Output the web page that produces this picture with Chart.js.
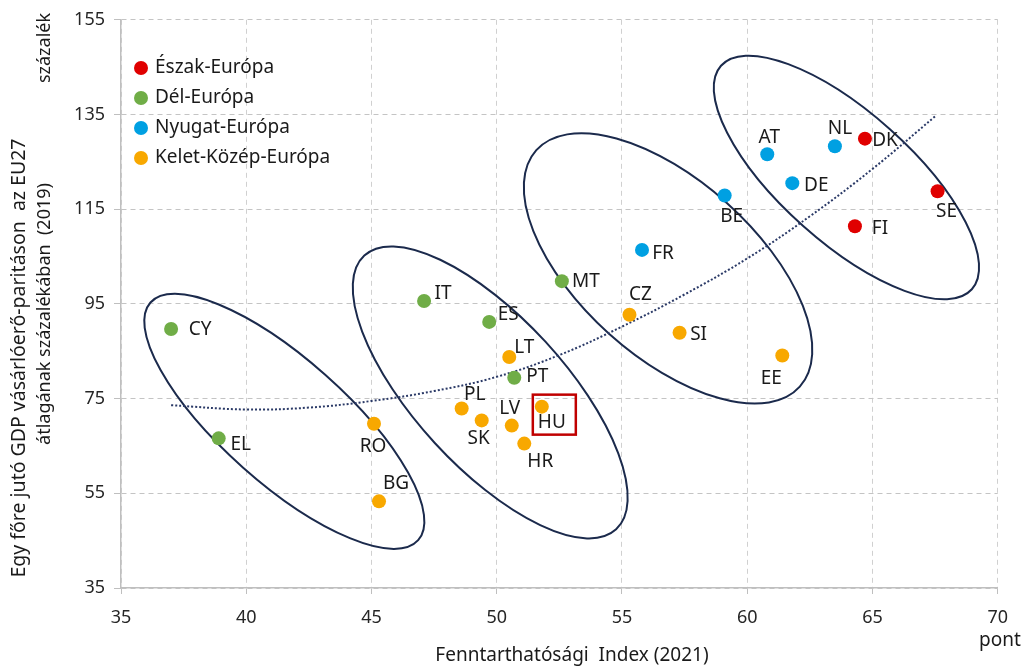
<!DOCTYPE html>
<html>
<head>
<meta charset="utf-8">
<script src="https://cdn.jsdelivr.net/npm/chart.js@4.4.1/dist/chart.umd.min.js"></script>
<style>
  html, body { margin: 0; padding: 0; background: #fff; }
  #wrap { width: 1021px; height: 668px; }
</style>
</head>
<body>
<div id="wrap"><canvas id="scatterCanvas" width="1021" height="668"></canvas></div>
<script>
// --- data ---
const groupNames = ['Észak-Európa', 'Dél-Európa', 'Nyugat-Európa', 'Kelet-Közép-Európa'];

const northCodes = ['DK', 'SE', 'FI'];
const northX = [64.7, 67.6, 64.3];
const northY = [129.9, 118.8, 111.4];

const southCodes = ['CY', 'EL', 'IT', 'ES', 'PT', 'MT'];
const southX = [37.0, 38.9, 47.1, 49.7, 50.7, 52.6];
const southY = [89.7, 66.6, 95.6, 91.2, 79.4, 99.8];

const westCodes = ['AT', 'DE', 'NL', 'BE', 'FR'];
const westX = [60.8, 61.8, 63.5, 59.1, 55.8];
const westY = [126.6, 120.5, 128.3, 117.9, 106.4];

const ceeCodes = ['RO', 'BG', 'PL', 'SK', 'LV', 'LT', 'HU', 'HR', 'CZ', 'SI', 'EE'];
const ceeX = [45.1, 45.3, 48.6, 49.4, 50.6, 50.5, 51.8, 51.1, 55.3, 57.3, 61.4];
const ceeY = [69.7, 53.3, 72.9, 70.4, 69.3, 83.8, 73.3, 65.5, 92.7, 88.9, 84.1];

// trend line (dotted), read at a few x positions
const trendX = [37, 40, 42.5, 45, 47.5, 50, 52.5, 55, 57.5, 60, 62.5, 65, 67.5];
const trendY = [73.6, 72.7, 73.1, 74.5, 76.6, 79.6, 84.2, 90.2, 97.0, 104.6, 113.5, 123.5, 134.6];

const xTitle = 'Fenntarthatósági  Index (2021)';
const yTitle = ['Egy főre jutó GDP vásárlóerő-paritáson  az EU27', 'átlagának százalékában  (2019)'];
const yUnit = 'százalék';
const xUnit = 'pont';

// --- styling ---
const colors = ['#E00000', '#70AD47', '#00A0E2', '#F8A800'];
const FONT = "'Noto Sans', sans-serif";
const textColor = '#1a1a1a';

// label offsets (px, text centre relative to the marker)
const labelPos = {
  CY: [29, 1], EL: [22, 6], RO: [-1, 23], BG: [17, -18], IT: [19, -7], ES: [19, -7],
  LT: [15, -9], PT: [23, -1], PL: [13, -14], SK: [-3, 18], LV: [-2, -17], HU: [10, 16],
  HR: [16, 18], MT: [24, 0], CZ: [11, -20], SI: [19, 2], FR: [21, 4], BE: [7, 21],
  EE: [-11, 23], AT: [2, -17], DE: [24, 2], NL: [5, -18], DK: [20, 2], SE: [9, 20], FI: [25, 2]
};

// group ellipses: centre in data units, radii in px, angle in degrees
const ellipses = [
  { cx: 41.52, cy: 70.2, rx: 179, ry: 62, rot: 41.6 },
  { cx: 49.74, cy: 76.3, rx: 186, ry: 75, rot: 47.4 },
  { cx: 56.84, cy: 102.5, rx: 177, ry: 88, rot: 41.9 },
  { cx: 63.96, cy: 121.7, rx: 168, ry: 65, rot: 41.7 }
];

function pts(xs, ys) {
  return xs.map((x, i) => ({ x: x, y: ys[i] }));
}

const groups = [
  { codes: northCodes, data: pts(northX, northY) },
  { codes: southCodes, data: pts(southX, southY) },
  { codes: westCodes, data: pts(westX, westY) },
  { codes: ceeCodes, data: pts(ceeX, ceeY) }
];

const datasets = groups.map((g, i) => ({
  type: 'scatter',
  label: groupNames[i],
  codes: g.codes,
  data: g.data,
  backgroundColor: colors[i],
  borderColor: colors[i],
  borderWidth: 0,
  pointRadius: 7,
  order: 1
}));

datasets.push({
  type: 'line',
  label: 'trend',
  data: pts(trendX, trendY),
  borderColor: '#2B3A67',
  borderWidth: 2,
  borderDash: [2, 2],
  pointRadius: 0,
  tension: 0.4,
  fill: false,
  order: 5
});

const ellipsePlugin = {
  id: 'ellipses',
  beforeDatasetsDraw(chart) {
    const { ctx, scales: { x, y } } = chart;
    ctx.save();
    ctx.strokeStyle = '#1B2A4C';
    ctx.lineWidth = 2;
    ellipses.forEach(e => {
      ctx.beginPath();
      ctx.ellipse(x.getPixelForValue(e.cx), y.getPixelForValue(e.cy), e.rx, e.ry, e.rot * Math.PI / 180, 0, Math.PI * 2);
      ctx.stroke();
    });
    ctx.restore();
  }
};

const labelPlugin = {
  id: 'pointLabels',
  afterDatasetsDraw(chart) {
    const ctx = chart.ctx;
    ctx.save();
    ctx.font = '19px ' + FONT;
    ctx.fillStyle = textColor;
    ctx.textAlign = 'center';
    ctx.textBaseline = 'middle';
    chart.data.datasets.forEach((ds, i) => {
      if (!ds.codes) return;
      chart.getDatasetMeta(i).data.forEach((el, j) => {
        const code = ds.codes[j];
        const off = labelPos[code] || [20, 0];
        ctx.fillText(code, el.x + off[0], el.y + off[1]);
        if (code === 'HU') {
          ctx.strokeStyle = '#C00000';
          ctx.lineWidth = 2.5;
          ctx.strokeRect(el.x - 9, el.y - 12, 43, 40);
        }
      });
    });
    ctx.restore();
  }
};

const titlePlugin = {
  id: 'titles',
  afterDraw(chart) {
    const ctx = chart.ctx;
    ctx.save();
    ctx.fillStyle = textColor;
    ctx.textAlign = 'center';
    ctx.textBaseline = 'middle';
    ctx.font = '19px ' + FONT;
    ctx.fillText(xTitle, 572, 656);
    ctx.fillText(xUnit, 1000, 641);

    ctx.save();
    ctx.translate(19, 358);
    ctx.rotate(-Math.PI / 2);
    ctx.font = '19.5px ' + FONT;
    ctx.fillText(yTitle[0], 0, 0);
    ctx.restore();
    ctx.save();
    ctx.translate(45, 314);
    ctx.rotate(-Math.PI / 2);
    ctx.font = '18px ' + FONT;
    ctx.fillText(yTitle[1], 0, 0);
    ctx.restore();
    ctx.save();
    ctx.translate(45, 48);
    ctx.rotate(-Math.PI / 2);
    ctx.font = '18px ' + FONT;
    ctx.fillText(yUnit, 0, 0);
    ctx.restore();

    // legend
    ctx.font = '19px ' + FONT;
    ctx.textAlign = 'left';
    groupNames.forEach((name, i) => {
      const cy = 68 + i * 30;
      ctx.beginPath();
      ctx.fillStyle = colors[i];
      ctx.arc(141, cy, 7, 0, Math.PI * 2);
      ctx.fill();
      ctx.fillStyle = textColor;
      ctx.fillText(name, 155, cy);
    });
    ctx.restore();
  }
};

const scatterCanvas = document.getElementById('scatterCanvas');

const scatterChart = new Chart(scatterCanvas, {
  data: { datasets: datasets },
  options: {
    responsive: false,
    animation: false,
    events: [],
    devicePixelRatio: 1,
    layout: { padding: { left: 61, right: 23, top: 18, bottom: 36 } },
    plugins: {
      legend: { display: false },
      tooltip: { enabled: false }
    },
    scales: {
      x: {
        type: 'linear',
        min: 35,
        max: 70,
        afterFit: s => { s.height = 44; },
        ticks: { stepSize: 5, color: '#262626', font: { family: FONT, size: 18 }, padding: 13 },
        grid: { color: '#D0D0D0', lineWidth: 1, tickLength: 6, tickColor: '#BFBFBF', tickBorderDash: [] },
        border: { color: '#BFBFBF', width: 1.5, dash: [5, 4] }
      },
      y: {
        type: 'linear',
        min: 35,
        max: 155,
        afterFit: s => { s.width = 60; },
        ticks: { stepSize: 20, color: '#262626', font: { family: FONT, size: 18 }, padding: 9 },
        grid: { color: '#C4C4C4', lineWidth: 1, tickLength: 7, tickColor: '#BFBFBF', tickBorderDash: [] },
        border: { color: '#BFBFBF', width: 1.5, dash: [5, 4] }
      }
    }
  },
  plugins: [ellipsePlugin, labelPlugin, titlePlugin]
});
</script>
</body>
</html>
